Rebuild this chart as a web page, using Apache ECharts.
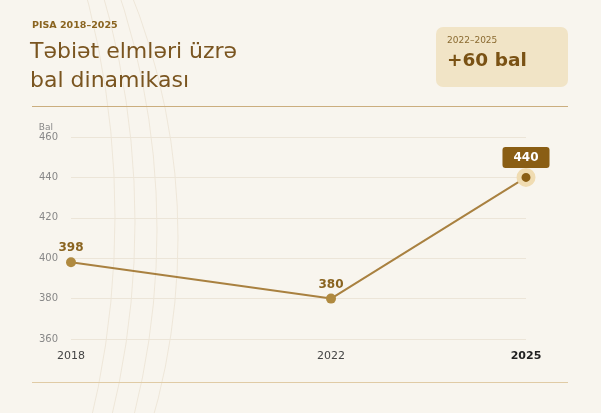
<!DOCTYPE html>
<html><head><meta charset="utf-8">
<script src="https://cdn.jsdelivr.net/npm/echarts@6/dist/echarts.min.js"></script>
<style>html,body{margin:0;padding:0;background:#f8f5ee;}#c{width:601px;height:413px;}</style>
</head><body><div id="c"></div>
<script>
const years = [2018, 2022, 2025];
const scores = [398, 380, 440];
const yTicks = [360, 380, 400, 420, 440, 460];
const kicker = 'PISA 2018–2025';
const titleLines = ['Təbiət elmləri üzrə', 'bal dinamikası'];
const badgePeriod = '2022–2025';
const badgeValue = '+60 bal';
const yName = 'Bal';

const F = '"DejaVu Sans", sans-serif';
const chart = echarts.init(document.getElementById('c'), null, {renderer: 'canvas'});

// decorative background arcs: [peakX, peakY, radius]
const arcDefs = [[115, 217, 872], [135, 222, 825], [157, 230, 756], [178, 238, 661]];
const arcs = arcDefs.map(a => ({
  type: 'circle', silent: true, z: 0,
  shape: {cx: a[0] - a[2], cy: a[1], r: a[2]},
  style: {fill: 'none', stroke: 'rgba(190,160,110,0.17)', lineWidth: 1}
}));

const data = years.map((y, i) => {
  const last = i === years.length - 1;
  const d = {value: [y, scores[i]]};
  if (last) {
    d.symbolSize = 14;
    d.itemStyle = {color: '#8a5e14', borderColor: '#f0dcb2', borderWidth: 5};
    d.label = {
      show: true, position: 'top', distance: 0,
      color: '#fff', backgroundColor: '#8a5e14', borderRadius: 3,
      padding: [5, 11, 4, 11], fontSize: 12, fontWeight: 'bold', fontFamily: F
    };
  }
  return d;
});

chart.setOption({
  backgroundColor: '#f8f5ee',
  animation: false,
  graphic: arcs.concat([
    {type: 'text', left: 32, top: 21, style: {text: kicker, font: 'bold 9.5px ' + F, fill: '#8a6420'}},
    {type: 'text', left: 30, top: 41, style: {text: titleLines[0], font: '22px ' + F, fill: '#7a5520'}},
    {type: 'text', left: 30, top: 70, style: {text: titleLines[1], font: '22px ' + F, fill: '#7a5520'}},
    {type: 'rect', shape: {x: 436, y: 27, width: 132, height: 60, r: 7}, style: {fill: '#f1e4c6'}},
    {type: 'text', left: 447, top: 36, style: {text: badgePeriod, font: '9px ' + F, fill: '#8a6a30'}},
    {type: 'text', left: 447, top: 52, style: {text: badgeValue, font: 'bold 18.5px ' + F, fill: '#7a5214'}},
    {type: 'line', shape: {x1: 32, y1: 106.5, x2: 568, y2: 106.5}, style: {stroke: '#cbae7e', lineWidth: 1}},
    {type: 'line', shape: {x1: 32, y1: 382.5, x2: 568, y2: 382.5}, style: {stroke: '#e0cba5', lineWidth: 1}}
  ]),
  grid: {left: 71, right: 75, top: 137, bottom: 74},
  xAxis: {
    type: 'value', min: years[0], max: years[years.length - 1],
    axisLine: {show: false}, axisTick: {show: false}, splitLine: {show: false},
    axisLabel: {
      customValues: years, margin: 12, fontSize: 11, fontFamily: F, color: '#444',
      formatter: v => v === years[years.length - 1] ? '{b|' + v + '}' : String(v),
      rich: {b: {fontWeight: 'bold', color: '#222', fontSize: 11, fontFamily: F}}
    }
  },
  yAxis: {
    type: 'value', min: yTicks[0], max: yTicks[yTicks.length - 1], interval: 20,
    name: yName, nameGap: 5, nameLocation: 'end',
    nameTextStyle: {color: '#888', fontSize: 9, fontFamily: F, align: 'right', padding: [0, 18, 0, 0]},
    axisLine: {show: false}, axisTick: {show: false},
    axisLabel: {color: '#888', fontSize: 10, fontFamily: F, margin: 13},
    splitLine: {lineStyle: {color: '#ece5d8', width: 1}}
  },
  series: [{
    type: 'line', data: data, z: 5,
    symbol: 'circle', symbolSize: 10,
    lineStyle: {color: '#a98140', width: 2},
    itemStyle: {color: '#b08a40'},
    label: {show: true, position: 'top', distance: 3, color: '#8a6420', fontSize: 12, fontWeight: 'bold', fontFamily: F}
  }]
});
</script></body></html>
